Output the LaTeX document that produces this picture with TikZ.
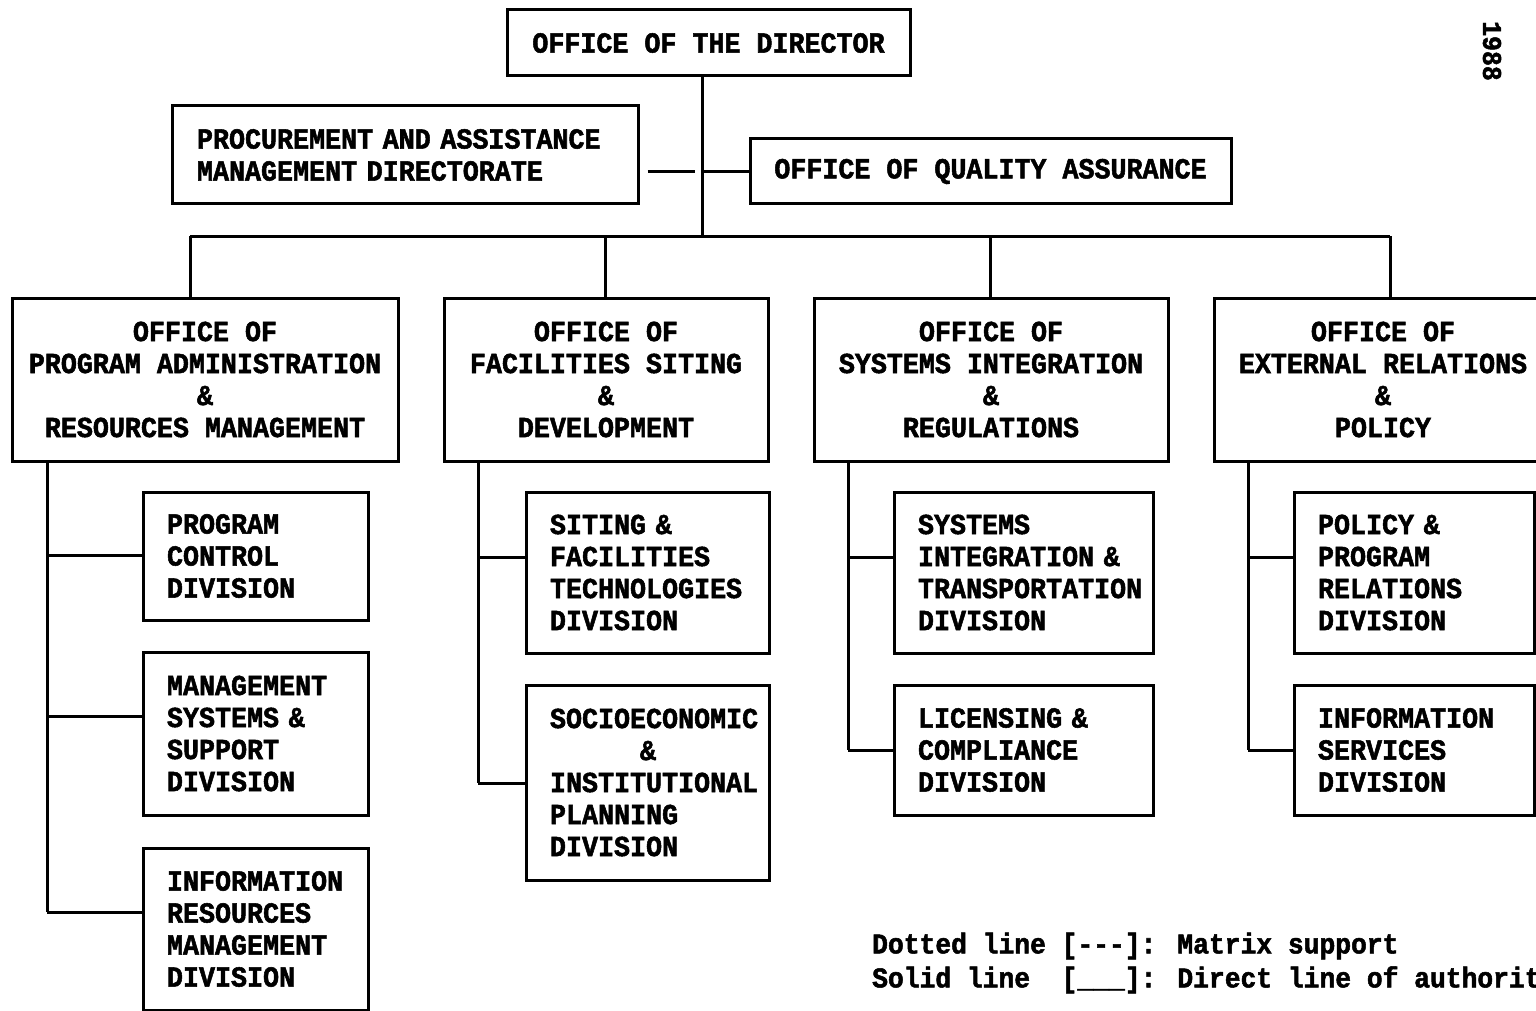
\documentclass[tikz,border=0pt]{standalone}
\usepackage{fontspec}
\newfontfamily\chartfont{Liberation Mono}[Ligatures=TeXOff, FakeStretch=0.92, BoldFeatures={FakeBold=1.8}]
\begin{document}
\begin{tikzpicture}[x=1pt,y=-1pt,
  every node/.style={font=\chartfont\bfseries\fontsize{29}{32}\selectfont},
  box/.style={draw, rectangle, line width=3pt, inner sep=0pt},
  cbox/.style={box, align=center},
  lbox/.style={box, align=left, inner xsep=24pt},
  link/.style={line width=3pt},
  matrixlink/.style={line width=3pt, shorten <=8pt, shorten >=7pt}]
\useasboundingbox (0,0) rectangle (1536,1011);
\fill[white] (0,0) rectangle (1536,1011);

% top level
\node[cbox, minimum width=403pt, minimum height=66pt] (dir) at (708.5,43) {OFFICE OF THE DIRECTOR};
\node[lbox, inner xsep=25pt, text width=416pt, minimum height=98pt] (proc) at (405,155)
  {PROCUREMENT AND ASSISTANCE\\MANAGEMENT DIRECTORATE};
\node[cbox, minimum width=481pt, minimum height=65pt] (qa) at (990.5,171.5) {OFFICE OF QUALITY ASSURANCE};

% offices
\node[cbox, minimum width=386pt, minimum height=163pt] (a) at (205,379.5)
  {OFFICE OF\\PROGRAM ADMINISTRATION\\\&\\RESOURCES MANAGEMENT};
\node[cbox, minimum width=324pt, minimum height=163pt] (b) at (606,379.5)
  {OFFICE OF\\FACILITIES SITING\\\&\\DEVELOPMENT};
\node[cbox, minimum width=354pt, minimum height=163pt] (c) at (991,379.5)
  {OFFICE OF\\SYSTEMS INTEGRATION\\\&\\REGULATIONS};
\node[cbox, minimum width=338pt, minimum height=163pt] (d) at (1383,379.5)
  {OFFICE OF\\EXTERNAL RELATIONS\\\&\\POLICY};

% divisions
\node[lbox, text width=177pt, minimum height=128pt] (a1) at (255.5,556) {PROGRAM\\CONTROL\\DIVISION};
\node[lbox, text width=177pt, minimum height=163pt] (a2) at (255.5,733.5) {MANAGEMENT\\SYSTEMS \&\\SUPPORT\\DIVISION};
\node[lbox, text width=177pt, minimum height=162pt] (a3) at (255.5,929) {INFORMATION\\RESOURCES\\MANAGEMENT\\DIVISION};

\node[lbox, text width=195pt, minimum height=161pt] (b1) at (647.5,572.5) {SITING \&\\FACILITIES\\TECHNOLOGIES\\DIVISION};
\node[lbox, text width=195pt, minimum height=195pt] (b2) at (647.5,782.5)
  {SOCIOECONOMIC\\\hspace*{90pt}\&\\INSTITUTIONAL\\PLANNING\\DIVISION};

\node[lbox, text width=211pt, minimum height=161pt] (c1) at (1023.5,572.5) {SYSTEMS\\INTEGRATION \&\\TRANSPORTATION\\DIVISION};
\node[lbox, text width=211pt, minimum height=130pt] (c2) at (1023.5,750) {LICENSING \&\\COMPLIANCE\\DIVISION};

\node[lbox, text width=192pt, minimum height=161pt] (d1) at (1414,572.5) {POLICY \&\\PROGRAM\\RELATIONS\\DIVISION};
\node[lbox, text width=192pt, minimum height=130pt] (d2) at (1414,750) {INFORMATION\\SERVICES\\DIVISION};

% junction points
\coordinate (bus) at (702,236);
\coordinate (da) at (190,236);
\coordinate (db) at (605,236);
\coordinate (dc) at (990,236);
\coordinate (dd) at (1390,236);
\coordinate (ja1) at (47,555);
\coordinate (ja2) at (47,716);
\coordinate (ja3) at (47,912);
\coordinate (jb1) at (478,557);
\coordinate (jb2) at (478,783);
\coordinate (jc1) at (848,557);
\coordinate (jc2) at (848,750);
\coordinate (jd1) at (1248,557);
\coordinate (jd2) at (1248,750);

% lines of authority
\draw[link] (dir.south -| bus) -- (bus);
\draw[link] (qa.west -| bus) -- (qa.west);
\draw[matrixlink] (proc.east |- qa.west) -- (qa.west -| bus);
\draw[link] (da) -- (dd);
\draw[link] (da) -- (da |- a.north);
\draw[link] (db) -- (db |- b.north);
\draw[link] (dc) -- (dc |- c.north);
\draw[link] (dd) -- (dd |- d.north);

\draw[link] (a.south -| ja1) -- (ja3);
\draw[link] (ja1) -- (ja1 -| a1.west);
\draw[link] (ja2) -- (ja2 -| a2.west);
\draw[link] (ja3) -- (ja3 -| a3.west);

\draw[link] (b.south -| jb1) -- (jb2);
\draw[link] (jb1) -- (jb1 -| b1.west);
\draw[link] (jb2) -- (jb2 -| b2.west);

\draw[link] (c.south -| jc1) -- (jc2);
\draw[link] (jc1) -- (jc1 -| c1.west);
\draw[link] (jc2) -- (jc2 -| c2.west);

\draw[link] (d.south -| jd1) -- (jd2);
\draw[link] (jd1) -- (jd1 -| d1.west);
\draw[link] (jd2) -- (jd2 -| d2.west);

% legend and year
\node[anchor=west, align=left, inner sep=0pt, font=\chartfont\bfseries\fontsize{28.6}{34}\selectfont] (legend) at (872,963)
  {Dotted line [---]: Matrix support\\Solid line\ \ [\_\_\_]: Direct line of authority};
\node[rotate=-90, font=\chartfont\bfseries\fontsize{27}{30}\selectfont] (year) at (1492,51) {1988};
\end{tikzpicture}
\end{document}
